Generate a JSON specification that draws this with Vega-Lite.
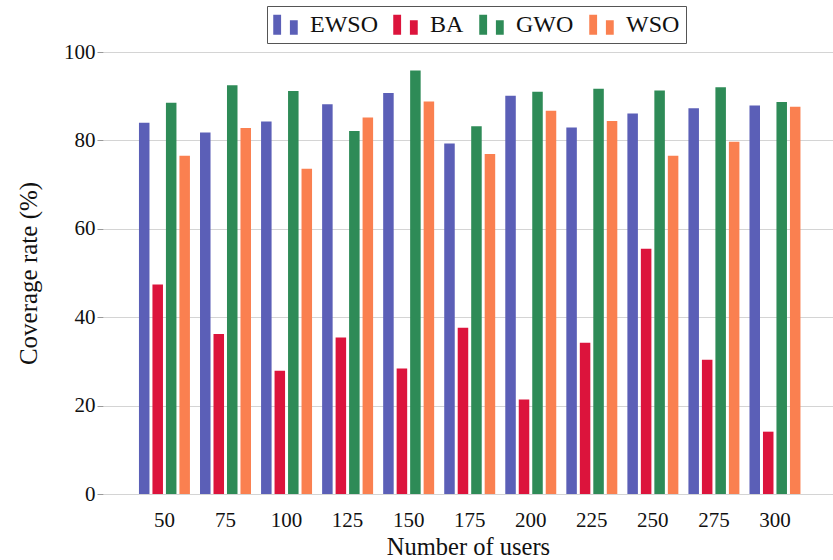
{
  "$schema": "https://vega.github.io/schema/vega-lite/v6.json",
  "autosize": {"type": "none"},
  "padding": {"left": 103, "top": 52, "right": 0, "bottom": 66},
  "width": 730,
  "height": 442,
  "background": "white",
  "config": {
    "view": {"stroke": null},
    "font": "Liberation Serif",
    "axis": {"labelFont": "Liberation Serif", "titleFont": "Liberation Serif", "labelColor": "#111", "titleColor": "#111", "titleFontWeight": "normal"}
  },
  "data": {
    "values": [
      {"users": "50", "alg": "EWSO", "v": 84.0},
      {"users": "50", "alg": "BA", "v": 47.4},
      {"users": "50", "alg": "GWO", "v": 88.5},
      {"users": "50", "alg": "WSO", "v": 76.5},
      {"users": "75", "alg": "EWSO", "v": 81.8},
      {"users": "75", "alg": "BA", "v": 36.2},
      {"users": "75", "alg": "GWO", "v": 92.5},
      {"users": "75", "alg": "WSO", "v": 82.8},
      {"users": "100", "alg": "EWSO", "v": 84.3},
      {"users": "100", "alg": "BA", "v": 27.9},
      {"users": "100", "alg": "GWO", "v": 91.2},
      {"users": "100", "alg": "WSO", "v": 73.6},
      {"users": "125", "alg": "EWSO", "v": 88.2},
      {"users": "125", "alg": "BA", "v": 35.4},
      {"users": "125", "alg": "GWO", "v": 82.1},
      {"users": "125", "alg": "WSO", "v": 85.2},
      {"users": "150", "alg": "EWSO", "v": 90.7},
      {"users": "150", "alg": "BA", "v": 28.4},
      {"users": "150", "alg": "GWO", "v": 95.8},
      {"users": "150", "alg": "WSO", "v": 88.8},
      {"users": "175", "alg": "EWSO", "v": 79.3},
      {"users": "175", "alg": "BA", "v": 37.6},
      {"users": "175", "alg": "GWO", "v": 83.2},
      {"users": "175", "alg": "WSO", "v": 76.9},
      {"users": "200", "alg": "EWSO", "v": 90.1},
      {"users": "200", "alg": "BA", "v": 21.4},
      {"users": "200", "alg": "GWO", "v": 91.0},
      {"users": "200", "alg": "WSO", "v": 86.7},
      {"users": "225", "alg": "EWSO", "v": 82.9},
      {"users": "225", "alg": "BA", "v": 34.2},
      {"users": "225", "alg": "GWO", "v": 91.7},
      {"users": "225", "alg": "WSO", "v": 84.4},
      {"users": "250", "alg": "EWSO", "v": 86.1},
      {"users": "250", "alg": "BA", "v": 55.5},
      {"users": "250", "alg": "GWO", "v": 91.3},
      {"users": "250", "alg": "WSO", "v": 76.5},
      {"users": "275", "alg": "EWSO", "v": 87.3},
      {"users": "275", "alg": "BA", "v": 30.4},
      {"users": "275", "alg": "GWO", "v": 92.0},
      {"users": "275", "alg": "WSO", "v": 79.7},
      {"users": "300", "alg": "EWSO", "v": 87.9},
      {"users": "300", "alg": "BA", "v": 14.1},
      {"users": "300", "alg": "GWO", "v": 88.7},
      {"users": "300", "alg": "WSO", "v": 87.6}
    ]
  },
  "mark": {"type": "bar"},
  "encoding": {
    "x": {
      "field": "users", "type": "nominal", "sort": null,
      "scale": {"paddingInner": 0.165, "paddingOuter": 0.561, "align": 0.525},
      "axis": {"title": "Number of users", "labelAngle": 0, "ticks": false, "domain": false, "labelFontSize": 21, "labelPadding": 15, "titleFontSize": 24.5, "titlePadding": 5}
    },
    "xOffset": {
      "field": "alg", "type": "nominal", "sort": ["EWSO", "BA", "GWO", "WSO"],
      "scale": {"paddingInner": 0.22, "paddingOuter": 0}
    },
    "y": {
      "field": "v", "type": "quantitative",
      "scale": {"domain": [0, 100], "nice": false},
      "axis": {"title": "Coverage rate (%)", "values": [0, 20, 40, 60, 80, 100], "domain": false, "grid": true, "gridColor": "#d4d4d4", "gridWidth": 1.2, "tickColor": "#999", "tickSize": 6, "labelFontSize": 21, "labelPadding": 2, "titleFontSize": 25, "titlePadding": 22}
    },
    "color": {
      "field": "alg", "type": "nominal",
      "scale": {"domain": ["EWSO", "BA", "GWO", "WSO"], "range": ["#5b5fb7", "#dc143c", "#2e8b57", "#fa8050"]},
      "legend": {
        "title": null, "orient": "none", "direction": "horizontal", "columns": 4,
        "legendX": 164, "legendY": -46,
        "symbolType": "M-1,-0.82H-0.36V0.82H-1Z M0.36,-0.36H1V0.82H0.36Z",
        "symbolSize": 600, "symbolStrokeWidth": 0, "symbolOpacity": 1,
        "labelFontSize": 24, "labelFont": "Liberation Serif", "labelColor": "#111", "labelOffset": 12,
        "columnPadding": 15, "padding": 6,
        "strokeColor": "#555", "fillColor": "white"
      }
    }
  }
}
